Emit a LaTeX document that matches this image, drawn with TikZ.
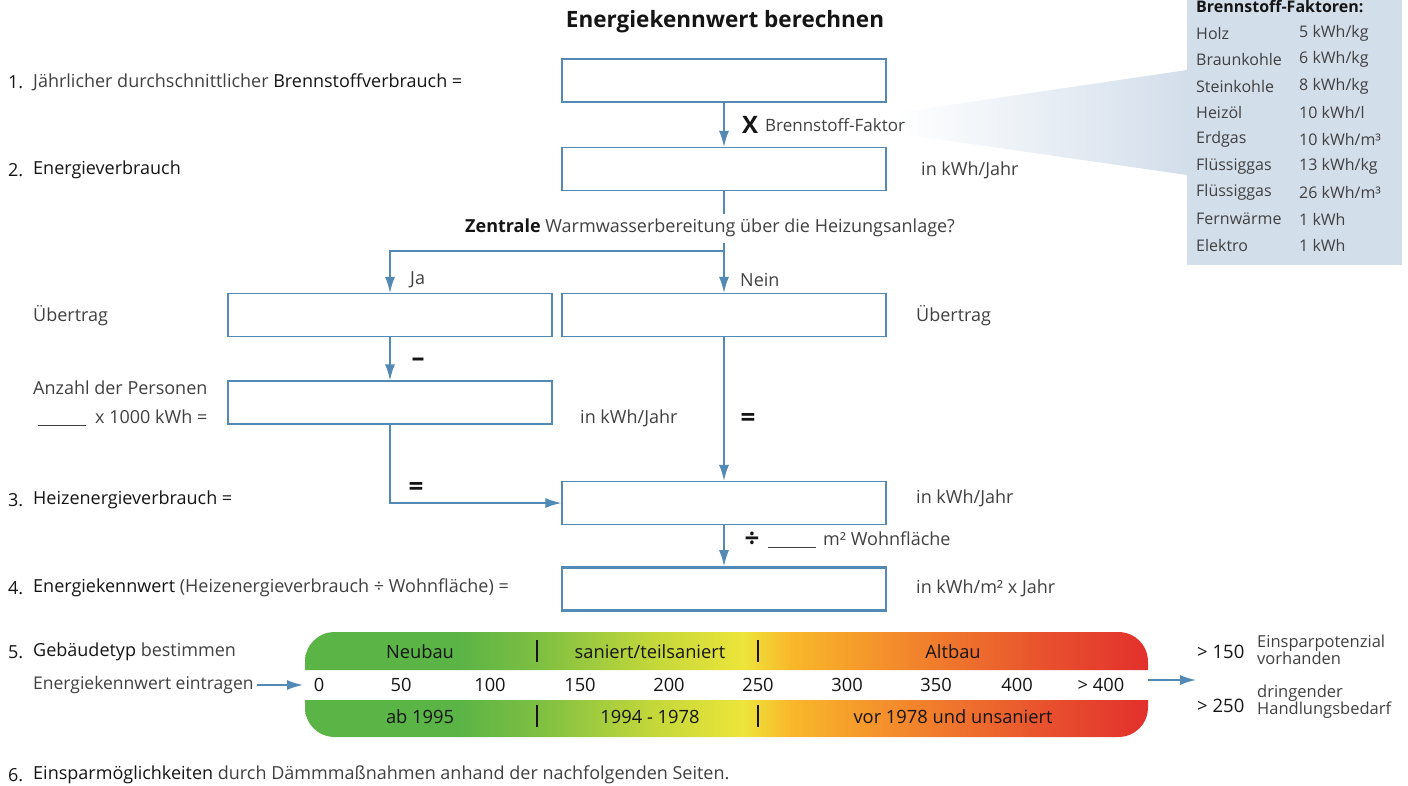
\documentclass[tikz,border=0pt]{standalone}
\usepackage{fontspec}
\setmainfont{Open Sans}
\usepackage{tikz}
\usetikzlibrary{positioning}
\usetikzlibrary{arrows.meta}
\usetikzlibrary{calc}

\definecolor{boxblue}{HTML}{5289B5}
\definecolor{panel}{HTML}{D3DEEB}
\definecolor{txt}{HTML}{404040}
\definecolor{key}{HTML}{151515}
\definecolor{gA}{HTML}{5AB446}
\definecolor{gB}{HTML}{7DBF42}
\definecolor{gC}{HTML}{C2D73A}
\definecolor{gD}{HTML}{EDE53A}
\definecolor{gE}{HTML}{F9B82A}
\definecolor{gF}{HTML}{F38A2C}
\definecolor{gG}{HTML}{E8502E}
\definecolor{gH}{HTML}{E2302C}
\pgfdeclarehorizontalshading{typescale}{100bp}{color(0bp)=(gA); color(25bp)=(gA);
  color(34bp)=(gA); color(38.75bp)=(gB); color(45.5bp)=(gC); color(51bp)=(gD);
  color(53.75bp)=(gE); color(60.25bp)=(gF); color(69bp)=(gG); color(75bp)=(gH);
  color(100bp)=(gH)}

\begin{document}
\begin{tikzpicture}[x=1pt, y=-1pt,
    box/.style={draw=boxblue, line width=1.2pt, minimum width=324pt,
      minimum height=43pt, inner sep=0pt},
    flow/.style={draw=boxblue, line width=1.6pt, -{Latex[length=16pt,width=10pt]}},
    lbl/.style={anchor=west, inner sep=0pt, text=txt, font=\fontsize{18}{21}\selectfont},
    fak/.style={lbl, font=\fontsize{16}{19}\selectfont},
    num/.style={lbl, text=key},
    op/.style={inner sep=0pt, text=key, font=\fontsize{26}{28}\selectfont\bfseries},
    scl/.style={inner sep=0pt, text=key, font=\fontsize{18.3}{21}\selectfont},
    sep/.style={line width=2.4pt, key}]
    \useasboundingbox (0,0) rectangle (1408,785);

    % Brennstoff-Faktoren
    \shade[left color=white, right color=panel] (895,113) -- (1187,70) -- (1187,175) -- (895,133) -- cycle;
    \fill[panel] (1187,0) rectangle (1402,265);
    \node[fak, anchor=base west, text=key, font=\fontsize{16}{19}\selectfont\bfseries] (fhead) at (1196,12) {Brennstoff-Faktoren:};
    \foreach \fname/\fval [count=\i from 0] in {Holz/{5 kWh/kg}, Braunkohle/{6 kWh/kg},
        Steinkohle/{8 kWh/kg}, Heizöl/{10 kWh/l}, Erdgas/{10 kWh/m³},
        Flüssiggas/{13 kWh/kg}, Flüssiggas/{26 kWh/m³},
        Fernwärme/{1 kWh}, Elektro/{1 kWh}} {
      \node[fak] (fn\i) at (1196,33+26.6*\i) {\fname};
      \node[fak] (fv\i) at (1299,33+26.6*\i) {\fval};
    }

    \node[op, font=\fontsize{22.5}{26}\selectfont\bfseries] (title) at (725,22) {Energiekennwert berechnen};

    % Kaesten
    \node[box] (b1) at (724,80.5) {};
    \node[box] (b2) at (724,169) {};
    \node[box] (b3a) at (390,315) {};
    \node[box] (b3b) at (724,315) {};
    \node[box] (b4) at (390,402.5) {};
    \node[box] (b5) at (724,503) {};
    \node[box, line width=2.6pt] (b6) at (724,589) {};

    % Beschriftung links
    \node[num] (n1) at (8,82) {1.};
    \node[lbl] (t1) at (33,82) {Jährlicher durchschnittlicher \textcolor{key}{Brennstoffverbrauch =}};
    \node[num] (n2) at (8,170) {2.};
    \node[num] (t2) at (33,170) {Energieverbrauch};
    \node[lbl] (ueb1) at (33,316) {Übertrag};
    \node[lbl] (pers) at (33,388) {Anzahl der Personen};
    \node[lbl] (kwh) at (38,418) {\rule[-2pt]{48pt}{0.8pt}\hspace{9pt}x 1000 kWh =};
    \node[num] (n3) at (8,500) {3.};
    \node[num] (t3) at (33,500) {Heizenergieverbrauch =};
    \node[num] (n4) at (8,588) {4.};
    \node[lbl] (t4) at (33,588) {\textcolor{key}{Energiekennwert} (Heizenergieverbrauch ÷ Wohnfläche) =};
    \node[num] (n5) at (8,652) {5.};
    \node[lbl] (t5) at (33,652) {\textcolor{key}{Gebäudetyp} bestimmen};
    \node[lbl, font=\fontsize{17.5}{21}\selectfont] (eintr) at (33,685) {Energiekennwert eintragen};
    \node[num] (n6) at (8,775) {6.};
    \node[lbl] (t6) at (33,775) {\textcolor{key}{Einsparmöglichkeiten} durch Dämmmaßnahmen anhand der nachfolgenden Seiten.};

    % Beschriftung rechts
    \node[lbl] (u2) at (921,170) {in kWh/Jahr};
    \node[lbl] (ueb2) at (916,316) {Übertrag};
    \node[lbl] (u4) at (580,418) {in kWh/Jahr};
    \node[lbl] (u5) at (916,498) {in kWh/Jahr};
    \node[lbl] (u6) at (916,588) {in kWh/m² x Jahr};

    % Operatoren
    \node[op, font=\fontsize{24}{26}\selectfont\bfseries] (mal) at (750,125) {X};
    \node[lbl, font=\fontsize{17}{20}\selectfont] (faktor) at (765,125) {Brennstoff-Faktor};
    \node[lbl] (frage) at (465,228) {\textcolor{key}{\bfseries Zentrale} Warmwasserbereitung über die Heizungsanlage?};
    \node[lbl] (ja) at (410,280) {Ja};
    \node[lbl] (nein) at (740,280) {Nein};
    \node[op] (minus) at (418,362) {–};
    \node[op] (gl1) at (748,420) {=};
    \node[op] (gl2) at (416,489) {=};
    \node[op] (durch) at (752,540) {÷};
    \node[lbl] (wfl) at (768,540) {\rule[-2pt]{48pt}{0.8pt}\hspace{7pt}m² Wohnfläche};

    % Pfeile
    \coordinate (z1) at (724,214);
    \coordinate (z2) at (724,243);
    \coordinate (z3) at (724,251);
    \draw[flow] (b1) -- (b2);
    \draw[flow, -] (b2) -- (z1);
    \draw[flow] (z2) -- (b3b);
    \draw[flow] (z3) -| (b3a);
    \draw[flow] (b3a) -- (b4);
    \draw[flow] (b3b) -- (b5);
    \draw[flow] (b4.south) |- (b5.west);
    \draw[flow] (b5) -- (b6);

    % Skala
    \shade[shading=typescale] (305,670) -- (305,662) .. controls (305,645) and (318,632) .. (335,632)
      -- (1118,632) .. controls (1135,632) and (1148,645) .. (1148,662) -- (1148,670) -- cycle;
    \shade[shading=typescale] (305,700) -- (1148,700) -- (1148,707) .. controls (1148,724) and (1135,737) .. (1118,737)
      -- (335,737) .. controls (318,737) and (305,724) .. (305,707) -- cycle;
    \foreach \xs in {537,758} {
      \draw[sep] (\xs,640) -- (\xs,662);
      \draw[sep] (\xs,705) -- (\xs,727);
    }
    \node[scl] (neu) at (420,652) {Neubau};
    \node[scl] (san) at (650,652) {saniert/teilsaniert};
    \node[scl] (alt) at (953,652) {Altbau};
    \node[scl] (j1) at (420,717) {ab 1995};
    \node[scl] (j2) at (650,717) {1994 - 1978};
    \node[scl] (j3) at (953,717) {vor 1978 und unsaniert};
    \foreach \val/\xs [count=\k] in {0/319, 50/401, 100/490, 150/580, 200/669,
        250/758, 300/847, 350/936, 400/1017, {> 400}/1101} {
      \node[scl] (s\k) at (\xs,685) {\val};
    }
    \coordinate (barL) at (303,685);
    \coordinate (barR) at (1148,680);
    \coordinate (auswert) at (1196,680);
    \draw[flow] ([xshift=3pt]eintr.east) -- (barL);
    \draw[flow] (barR) -- (auswert);

    \node[scl, anchor=west, font=\fontsize{18.5}{21}\selectfont] (g150) at (1197,652) {> 150};
    \node[lbl, align=left, font=\fontsize{16.5}{17}\selectfont] (pot) at (1257,650) {Einsparpotenzial\\vorhanden};
    \node[scl, anchor=west, font=\fontsize{18.5}{21}\selectfont] (g250) at (1197,706) {> 250};
    \node[lbl, align=left, font=\fontsize{16.5}{17}\selectfont] (bed) at (1257,702) {dringender\\Handlungsbedarf};
\end{tikzpicture}
\end{document}
